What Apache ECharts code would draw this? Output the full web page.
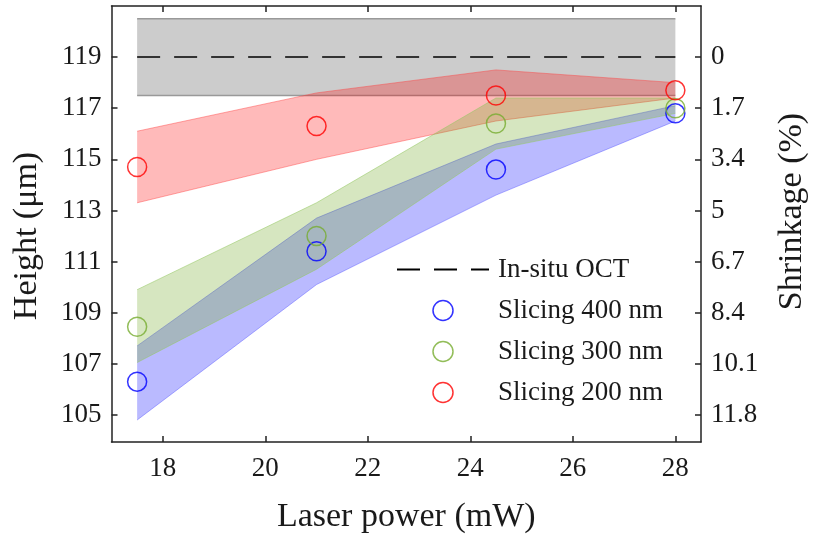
<!DOCTYPE html>
<html>
<head>
<meta charset="utf-8">
<script src="https://cdn.jsdelivr.net/npm/echarts@6/dist/echarts.min.js"></script>
<style>html,body{margin:0;padding:0;background:#fff;}#c{width:813px;height:541px;}</style>
</head>
<body>
<div id="c"></div>
<script>
// ---- data ----
const powers = [17.5, 21, 24.5, 28];
const octX = [17.5, 28];
const octLevel = [119, 119];
const octLow = [117.5, 117.5];
const octHigh = [120.5, 120.5];

const mean400 = [106.3, 111.4, 114.6, 116.8];
const low400  = [104.8, 110.1, 113.6, 116.5];
const high400 = [107.7, 112.7, 115.6, 117.1];

const mean300 = [108.45, 112.0, 116.4, 117.0];
const low300  = [107.05, 110.7, 115.4, 116.8];
const high300 = [109.9, 113.3, 117.4, 117.4];

const mean200 = [114.7, 116.3, 117.5, 117.7];
const low200  = [113.3, 115.0, 116.5, 117.4];
const high200 = [116.1, 117.6, 118.5, 118.0];

const xTicks = [18, 20, 22, 24, 26, 28];
const yTicks = [105, 107, 109, 111, 113, 115, 117, 119];
const shrinkLabels = ['11.8', '10.1', '8.4', '6.7', '5', '3.4', '1.7', '0'];

const seriesNames = ['In-situ OCT', 'Slicing 400 nm', 'Slicing 300 nm', 'Slicing 200 nm'];
const xTitle = 'Laser power (mW)';
const yTitle = 'Height (μm)';
const y2Title = 'Shrinkage (%)';

// ---- styles ----
const FONT = 'Liberation Serif';
const TXT = '#1a1a1a';
const AX = '#222';
const CLEAR = 'rgba(0,0,0,0)';

function band(name, xsArr, lo, hi, fill, stroke, lw) {
  return {
    type: 'custom', name: name, silent: true,
    xAxisIndex: 0, yAxisIndex: 0,
    encode: { x: 0, y: [1, 2] },
    data: xsArr.map((x, i) => [x, lo[i], hi[i]]),
    renderItem: function (params, api) {
      if (params.dataIndex !== 0) return null;
      const top = xsArr.map((x, i) => api.coord([x, hi[i]]));
      const bot = xsArr.map((x, i) => api.coord([x, lo[i]]));
      return {
        type: 'group',
        children: [
          { type: 'polygon', shape: { points: top.concat(bot.slice().reverse()) }, style: { fill: fill, stroke: null } },
          { type: 'polyline', shape: { points: top }, style: { stroke: stroke, lineWidth: lw, fill: null } },
          { type: 'polyline', shape: { points: bot }, style: { stroke: stroke, lineWidth: lw, fill: null } }
        ]
      };
    }
  };
}

function marks(name, ys, color) {
  return {
    type: 'scatter', name: name,
    data: powers.map((x, i) => [x, ys[i]]),
    symbol: 'circle', symbolSize: 19,
    itemStyle: { color: CLEAR, borderColor: color, borderWidth: 1.5 },
    emphasis: { disabled: true }
  };
}

const axisLineStyle = { color: AX, width: 1.5 };
const tickStyle = { color: AX, width: 1.5 };
const labelStyle = { fontFamily: FONT, fontSize: 27, color: TXT };
const nameStyle = { fontFamily: FONT, fontSize: 34, color: TXT };

const chart = echarts.init(document.getElementById('c'), null, { renderer: 'canvas' });
chart.setOption({
  animation: false,
  backgroundColor: '#fff',
  grid: { left: 111.5, top: 6, width: 589.5, height: 436, containLabel: false, outerBoundsMode: 'none' },
  xAxis: [
    {
      type: 'value', min: 17, max: 28.5, position: 'bottom',
      axisLine: { show: true, onZero: false, lineStyle: axisLineStyle },
      axisTick: { show: true, inside: true, length: 6, customValues: xTicks, lineStyle: tickStyle },
      axisLabel: Object.assign({ customValues: xTicks, margin: 13 }, labelStyle),
      splitLine: { show: false },
      name: xTitle, nameLocation: 'middle', nameGap: 58, nameTextStyle: nameStyle
    },
    {
      type: 'value', min: 17, max: 28.5, position: 'top',
      axisLine: { show: true, onZero: false, lineStyle: axisLineStyle },
      axisTick: { show: true, inside: true, length: 6, customValues: xTicks, lineStyle: tickStyle },
      axisLabel: { show: false },
      splitLine: { show: false }
    }
  ],
  yAxis: [
    {
      type: 'value', min: 103.94, max: 121.0, position: 'left',
      axisLine: { show: true, onZero: false, lineStyle: axisLineStyle },
      axisTick: { show: true, inside: true, length: 6, customValues: yTicks, lineStyle: tickStyle },
      axisLabel: Object.assign({ customValues: yTicks, margin: 10 }, labelStyle),
      splitLine: { show: false }
    },
    {
      type: 'value', min: 103.94, max: 121.0, position: 'right',
      axisLine: { show: true, onZero: false, lineStyle: axisLineStyle },
      axisTick: { show: true, inside: true, length: 6, customValues: yTicks, lineStyle: tickStyle },
      axisLabel: Object.assign({
        customValues: yTicks, margin: 10,
        formatter: function (v) { const k = yTicks.indexOf(Math.round(v)); return k >= 0 ? shrinkLabels[k] : ''; }
      }, labelStyle),
      splitLine: { show: false }
    }
  ],
  graphic: [
    { type: 'text', x: 27, y: 236, rotation: Math.PI / 2, silent: true,
      style: { text: yTitle, font: '34px "Liberation Serif"', fill: TXT, align: 'center', verticalAlign: 'middle' } },
    { type: 'text', x: 792, y: 211.5, rotation: Math.PI / 2, silent: true,
      style: { text: y2Title, font: '34px "Liberation Serif"', fill: TXT, align: 'center', verticalAlign: 'middle' } }
  ],
  legend: {
    data: [
      { name: seriesNames[0], itemStyle: { color: CLEAR, borderColor: CLEAR, borderWidth: 0 } },
      seriesNames[1], seriesNames[2], seriesNames[3]
    ],
    orient: 'vertical',
    left: 396, top: 256, padding: 0,
    itemWidth: 92, itemHeight: 20, itemGap: 14,
    selectedMode: false,
    itemStyle: { borderWidth: 1.5 },
    textStyle: { fontFamily: FONT, fontSize: 27, color: TXT, padding: [0, 0, 0, 4] }
  },
  series: [
    band('octBand', octX, octLow, octHigh, '#cccccc', '#999999', 1.5),
    {
      type: 'line', name: seriesNames[0],
      data: octX.map((x, i) => [x, octLevel[i]]),
      symbol: 'none', silent: true,
      lineStyle: { color: '#000', width: 1.5, type: [23, 14] },
      itemStyle: { color: CLEAR, borderColor: CLEAR, borderWidth: 0 }
    },
    band('band200', powers, low200, high200, 'rgba(255,0,0,0.27)', 'rgba(255,60,60,0.45)', 1),
    band('band400', powers, low400, high400, 'rgba(0,0,255,0.27)', 'rgba(60,60,255,0.4)', 1),
    band('band300', powers, low300, high300, 'rgba(119,172,48,0.3)', 'rgba(150,200,100,0.55)', 1),
    marks(seriesNames[1], mean400, '#0000ff'),
    marks(seriesNames[2], mean300, '#77ac30'),
    marks(seriesNames[3], mean200, '#ff0000')
  ]
});
</script>
</body>
</html>
